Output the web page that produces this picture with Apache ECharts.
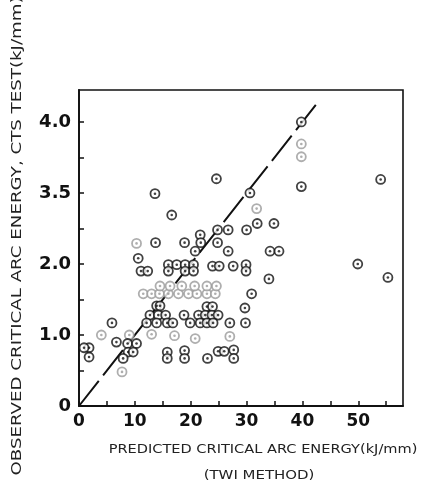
<!DOCTYPE html>
<html>
<head>
<meta charset="utf-8">
<script src="https://cdn.jsdelivr.net/npm/echarts@6/dist/echarts.min.js"></script>
<style>
  html, body { margin: 0; padding: 0; background: #fff; }
  #chart { width: 447px; height: 483px; }
</style>
</head>
<body>
<div id="chart"></div>
<script>
// y positions are in axis units; the printed labels on that axis read 0, 1.0, 2.0, 3.5, 4.0
const yTickLabels = ['0', '1.0', '2.0', '3.5', '4.0']
const xTickLabels = ['0', '10', '20', '30', '40', '50']

// clearly printed points [predicted, observed]
const darkPoints = [
  [39.8, 4.0], [39.8, 3.09], [54.0, 3.19], [24.6, 3.2], [13.6, 2.99], [30.6, 3.0],
  [16.6, 2.69], [31.9, 2.57], [34.9, 2.57], [30.0, 2.48], [24.8, 2.48], [26.7, 2.48],
  [21.7, 2.41], [13.7, 2.3], [18.9, 2.3], [21.8, 2.3], [24.8, 2.3], [20.8, 2.18],
  [26.7, 2.18], [34.2, 2.18], [35.8, 2.18], [10.6, 2.08], [11.1, 1.9], [12.3, 1.9],
  [16.0, 1.99], [17.5, 1.99], [19.0, 1.99], [20.5, 1.99], [23.9, 1.97], [25.1, 1.97],
  [27.6, 1.97], [29.9, 1.99], [16.0, 1.9], [19.0, 1.9], [20.5, 1.9], [29.9, 1.9],
  [34.0, 1.79], [49.9, 2.0], [55.3, 1.81], [30.9, 1.58],
  [13.9, 1.41], [14.5, 1.41], [22.9, 1.4], [23.9, 1.4], [29.7, 1.38],
  [12.7, 1.28], [14.2, 1.28], [15.5, 1.28], [18.8, 1.28], [21.4, 1.28], [22.6, 1.28],
  [23.8, 1.28], [24.9, 1.28],
  [5.9, 1.17], [12.1, 1.17], [13.9, 1.17], [15.8, 1.17], [16.8, 1.17], [19.9, 1.17],
  [21.7, 1.17], [22.9, 1.17], [24.0, 1.17], [27.0, 1.17], [29.8, 1.17],
  [6.7, 0.9], [8.7, 0.88], [10.3, 0.88],
  [1.8, 0.82], [0.9, 0.82], [8.8, 0.76], [9.7, 0.76], [15.8, 0.76], [18.9, 0.78],
  [24.9, 0.77], [26.0, 0.77], [27.7, 0.79],
  [1.8, 0.69], [7.9, 0.67], [15.8, 0.67], [18.9, 0.67], [23.0, 0.67], [27.7, 0.67],
]

// faded points in the scan
const fadedPoints = [
  [39.8, 3.69], [39.8, 3.51], [31.8, 2.78], [10.3, 2.29], [7.7, 0.48],
  [11.5, 1.58], [13.0, 1.58], [14.4, 1.58], [16.0, 1.58], [17.8, 1.58], [19.6, 1.58],
  [21.1, 1.58], [22.9, 1.58], [24.4, 1.58],
  [14.5, 1.69], [16.3, 1.69], [18.4, 1.69], [20.7, 1.69], [22.9, 1.69], [24.6, 1.69],
  [20.8, 0.95], [17.1, 0.99], [4.0, 1.0], [9.0, 1.0], [13.0, 1.01], [27.0, 0.98],
]

// 1:1 line drawn on the original
const equalityLine = [[0, 0], [42.5, 4.25]]

const chart = echarts.init(document.getElementById('chart'))

const ink = '#111'
const faded = '#9a9a9a'

function ringSeries(data, color) {
  return [
    {
      type: 'scatter',
      data,
      symbol: 'circle',
      symbolSize: 9,
      itemStyle: { color: '#fff', borderColor: color, borderWidth: 1.8 },
      z: 3,
    },
    {
      type: 'scatter',
      data,
      symbol: 'circle',
      symbolSize: 2.6,
      itemStyle: { color },
      z: 4,
    },
  ]
}

// axis titles are stretched along their length to match the wide letter spacing of the scan
function title(text, x, y, size, stretch, rotation) {
  return {
    type: 'text',
    x, y,
    rotation: rotation || 0,
    scaleX: stretch,
    style: {
      text,
      fill: '#222',
      font: size + 'px "DejaVu Sans"',
      textAlign: 'center',
      textVerticalAlign: 'middle',
    },
  }
}

chart.setOption({
  animation: false,
  grid: {
    left: 79, right: 44, top: 90, bottom: 77,
    show: true, borderColor: ink, borderWidth: 1.6,
  },
  xAxis: {
    type: 'value',
    min: 0, max: 58, interval: 5,
    axisLine: { lineStyle: { color: ink, width: 1.8 } },
    axisTick: { inside: true, length: 5, lineStyle: { color: ink, width: 1.5 } },
    splitLine: { show: false },
    axisLabel: {
      showMaxLabel: false,
      margin: 7,
      color: ink,
      fontFamily: 'DejaVu Sans',
      fontWeight: 'bold',
      fontSize: 17,
      formatter: (v) => (v % 10 === 0 ? xTickLabels[v / 10] : ''),
    },
  },
  yAxis: {
    type: 'value',
    min: 0, max: 4.45, interval: 0.5,
    axisLine: { lineStyle: { color: ink, width: 1.8 } },
    axisTick: { inside: true, length: 5, lineStyle: { color: ink, width: 1.5 } },
    splitLine: { show: false },
    axisLabel: {
      showMaxLabel: false,
      margin: 8,
      color: ink,
      fontFamily: 'DejaVu Sans',
      fontWeight: 'bold',
      fontSize: 18,
      formatter: (v) => (Number.isInteger(v) ? yTickLabels[v] : ''),
    },
  },
  graphic: [
    title('OBSERVED CRITICAL ARC ENERGY, CTS TEST(kJ/mm)', 17, 236, 14, 1.3, Math.PI / 2),
    title('PREDICTED CRITICAL ARC ENERGY(kJ/mm)', 263, 450, 13, 1.12),
    title('(TWI METHOD)', 259, 476, 13, 1.15),
  ],
  series: [
    {
      type: 'line',
      data: equalityLine,
      symbol: 'none',
      lineStyle: { color: ink, width: 2, type: [32, 7] },
      z: 2,
    },
    ...ringSeries(fadedPoints, faded),
    ...ringSeries(darkPoints, ink),
  ],
})
</script>
</body>
</html>
